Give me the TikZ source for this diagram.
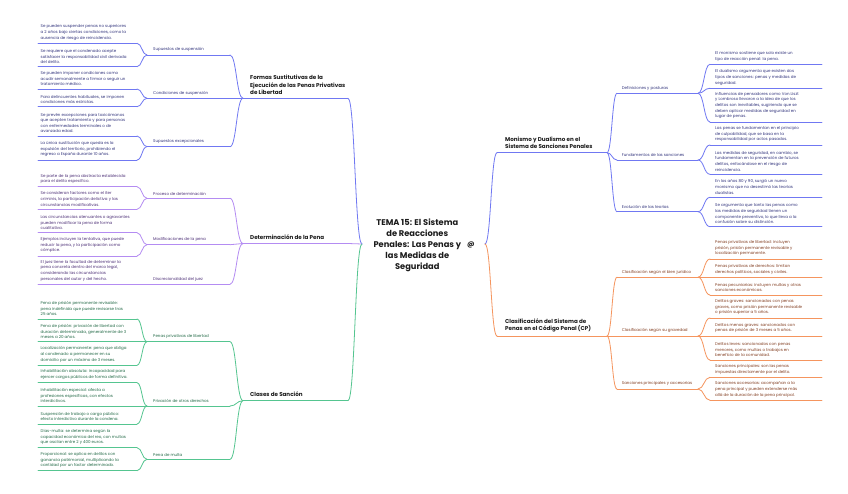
\documentclass[tikz,border=0pt]{standalone}
\usepackage{fontspec}
\setmainfont{Poppins}
\usetikzlibrary{calc}
\definecolor{bl}{HTML}{7078F2}
\definecolor{bt}{HTML}{34367E}
\definecolor{pl}{HTML}{B48CF2}
\definecolor{pt}{HTML}{4E3178}
\definecolor{gl}{HTML}{55C590}
\definecolor{gt}{HTML}{246B48}
\definecolor{ol}{HTML}{F5955E}
\definecolor{ot}{HTML}{833F22}
\definecolor{mt}{HTML}{1C1C1C}
\tikzset{
  ln/.style={line width=0.8pt, line cap=round},
  leaf/.style={anchor=south west, inner sep=0pt, align=left, font=\fontsize{4.0}{5.65}\selectfont},
  mainlbl/.style={anchor=south west, inner sep=0pt, align=left, font=\bfseries\fontsize{5.6}{7.4}\selectfont, text=mt},
  titlelbl/.style={inner sep=0pt, align=center, font=\bfseries\fontsize{8.3}{11}\selectfont, text=mt}
}
% left side
\newcommand\LeafL[4]{%
  \node[leaf,text=#3t] (#1) at (40.5,{#2-2.8}) {#4};
  \coordinate (#1a) at (38,#2);
  \coordinate (#1b) at (137,#2);
  \draw[ln,draw=#3l] (#1a) -- (#1b);}
\newcommand\SubL[4]{%
  \node[leaf,text=#3t] (#1) at (153,{#2-2.8}) {#4};
  \coordinate (#1j) at (147,#2);
  \coordinate (#1e) at (230,#2);
  \draw[ln,draw=#3l] (#1j) -- (#1e);}
\newcommand\MainL[4]{%
  \node[mainlbl] (#1) at (250,{#2-3.6}) {#4};
  \coordinate (#1j) at (243,#2);
  \coordinate (#1e) at (348,#2);
  \draw[ln,draw=#3l] (#1j) -- (#1e);}
% right side
\newcommand\LeafR[4]{%
  \node[leaf,text=#3t] (#1) at (715,{#2-2.8}) {#4};
  \coordinate (#1a) at (710,#2);
  \coordinate (#1b) at (822,#2);
  \draw[ln,draw=#3l] (#1a) -- (#1b);}
\newcommand\SubR[4]{%
  \node[leaf,text=#3t] (#1) at (621.7,{#2-2.8}) {#4};
  \coordinate (#1a) at (617,#2);
  \coordinate (#1j) at (698,#2);
  \draw[ln,draw=#3l] (#1a) -- (#1j);}
\newcommand\MainR[4]{%
  \node[mainlbl] (#1) at (505,{#2-3.6}) {#4};
  \coordinate (#1a) at (497,#2);
  \coordinate (#1j) at (607,#2);
  \draw[ln,draw=#3l] (#1a) -- (#1j);}
\newcommand\Link[4]{\draw[ln,draw=#1l] (#2) .. controls ($(#2)+(#4,0)$) and ($(#3)-(#4,0)$) .. (#3);}
\begin{document}
\begin{tikzpicture}[x=1pt,y=-1pt]
\useasboundingbox[fill=white] (0,0) rectangle (848,494);
% ---------- centre
\node[titlelbl] (T) at (417.3,245) {TEMA 15: El Sistema\\de Reacciones\\Penales: Las Penas y\\las Medidas de\\Seguridad};
\node[inner sep=0pt, font=\bfseries\fontsize{7}{7}\selectfont, text=mt] (icon) at (471,245) {@};
\coordinate (cL) at (362,244);
\coordinate (cR) at (485,244);
% ---------- Formas sustitutivas (blue)
\MainL{M1}{98.3}{b}{Formas Sustitutivas de la\\Ejecución de las Penas Privativas\\de Libertad}
\SubL{S1}{55}{b}{Supuestos de suspensión}
\LeafL{L1}{43.3}{b}{Se pueden suspender penas no superiores\\a 2 años bajo ciertas condiciones, como la\\ausencia de riesgo de reincidencia.}
\LeafL{L2}{66.7}{b}{Se requiere que el condenado acepte\\satisfacer la responsabilidad civil derivada\\del delito.}
\SubL{S2}{98.3}{b}{Condiciones de suspensión}
\LeafL{L3}{89}{b}{Se pueden imponer condiciones como\\acudir semanalmente a firmar o seguir un\\tratamiento médico.}
\LeafL{L4}{106.7}{b}{Para delincuentes habituales, se imponen\\condiciones más estrictas.}
\SubL{S3}{146.7}{b}{Supuestos excepcionales}
\LeafL{L5}{136}{b}{Se prevén excepciones para toxicómanos\\que acepten tratamiento y para personas\\con enfermedades terminales o de\\avanzada edad.}
\LeafL{L6}{160}{b}{La única sustitución que queda es la\\expulsión del territorio, prohibiendo el\\regreso a España durante 10 años.}
\Link{b}{L1b}{S1j}{5}\Link{b}{L2b}{S1j}{5}
\Link{b}{L3b}{S2j}{5}\Link{b}{L4b}{S2j}{5}
\Link{b}{L5b}{S3j}{5}\Link{b}{L6b}{S3j}{5}
\Link{b}{S1e}{M1j}{6.5}\Link{b}{S2e}{M1j}{6.5}\Link{b}{S3e}{M1j}{6.5}
\Link{b}{cL}{M1e}{-7}
% ---------- Determinación (purple)
\MainL{M2}{243.5}{p}{Determinación de la Pena}
\SubL{P1}{198.3}{p}{Proceso de determinación}
\LeafL{L7}{186.7}{p}{Se parte de la pena abstracta establecida\\para el delito específico.}
\LeafL{L8}{209.3}{p}{Se consideran factores como el iter\\criminis, la participación delictiva y las\\circunstancias modificativas.}
\SubL{P2}{244.7}{p}{Modificaciones de la pena}
\LeafL{L9}{232.7}{p}{Las circunstancias atenuantes o agravantes\\pueden modificar la pena de forma\\cualitativa.}
\LeafL{L10}{256}{p}{Ejemplos incluyen la tentativa, que puede\\reducir la pena, y la participación como\\cómplice.}
\SubL{P3}{284.3}{p}{Discrecionalidad del juez}
\LeafL{L11}{284.3}{p}{El juez tiene la facultad de determinar la\\pena concreta dentro del marco legal,\\considerando las circunstancias\\personales del autor y del hecho.}
\Link{p}{L7b}{P1j}{5}\Link{p}{L8b}{P1j}{5}
\Link{p}{L9b}{P2j}{5}\Link{p}{L10b}{P2j}{5}
\Link{p}{L11b}{P3j}{5}
\Link{p}{P1e}{M2j}{6.5}\Link{p}{P2e}{M2j}{6.5}\Link{p}{P3e}{M2j}{6.5}
\Link{p}{cL}{M2e}{-7}
% ---------- Clases de sanción (green)
\MainL{M3}{400.7}{g}{Clases de Sanción}
\SubL{G1}{341.7}{g}{Penas privativas de libertad}
\LeafL{L12}{319}{g}{Pena de prisión permanente revisable:\\pena indefinida que puede revisarse tras\\25 años.}
\LeafL{L13}{341.7}{g}{Pena de prisión: privación de libertad con\\duración determinada, generalmente de 3\\meses a 20 años.}
\LeafL{L14}{365.3}{g}{Localización permanente: pena que obliga\\al condenado a permanecer en su\\domicilio por un máximo de 3 meses.}
\SubL{G2}{406}{g}{Privación de otros derechos}
\LeafL{L15}{382.7}{g}{Inhabilitación absoluta: incapacidad para\\ejercer cargos públicos de forma definitiva.}
\LeafL{L16}{406}{g}{Inhabilitación especial: afecta a\\profesiones específicas, con efectos\\interdictivos.}
\LeafL{L17}{424}{g}{Suspensión de trabajo o cargo público:\\efecto interdictivo durante la condena.}
\SubL{G3}{459.3}{g}{Pena de multa}
\LeafL{L18}{447.7}{g}{Días-multa: se determina según la\\capacidad económica del reo, con multas\\que oscilan entre 2 y 400 euros.}
\LeafL{L19}{470.7}{g}{Proporcional: se aplica en delitos con\\ganancia patrimonial, multiplicando la\\cantidad por un factor determinado.}
\Link{g}{L12b}{G1j}{5}\Link{g}{L13b}{G1j}{5}\Link{g}{L14b}{G1j}{5}
\Link{g}{L15b}{G2j}{5}\Link{g}{L16b}{G2j}{5}\Link{g}{L17b}{G2j}{5}
\Link{g}{L18b}{G3j}{5}\Link{g}{L19b}{G3j}{5}
\Link{g}{G1e}{M3j}{6.5}\Link{g}{G2e}{M3j}{6.5}\Link{g}{G3e}{M3j}{6.5}
\Link{g}{cL}{M3e}{-7}
% ---------- Monismo y dualismo (blue, right)
\MainR{M4}{152.7}{b}{Monismo y Dualismo en el\\Sistema de Sanciones Penales}
\SubR{R1}{93.3}{b}{Definiciones y posturas}
\LeafR{L20}{64.3}{b}{El monismo sostiene que solo existe un\\tipo de reacción penal: la pena.}
\LeafR{L21}{88.3}{b}{El dualismo argumenta que existen dos\\tipos de sanciones: penas y medidas de\\seguridad.}
\LeafR{L22}{122}{b}{Influencias de pensadores como Von Liszt\\y Lombroso llevaron a la idea de que los\\delitos son inevitables, sugiriendo que se\\deben aplicar medidas de seguridad en\\lugar de penas.}
\SubR{R2}{160}{b}{Fundamentos de las sanciones}
\LeafR{L23}{145}{b}{Las penas se fundamentan en el principio\\de culpabilidad, que se basa en la\\responsabilidad por actos pasados.}
\LeafR{L24}{174.3}{b}{Las medidas de seguridad, en cambio, se\\fundamentan en la prevención de futuros\\delitos, enfocándose en el riesgo de\\reincidencia.}
\SubR{R3}{211.7}{b}{Evolución de las teorías}
\LeafR{L25}{197.3}{b}{En los años 80 y 90, surgió un nuevo\\monismo que no desestimó las teorías\\dualistas.}
\LeafR{L26}{226.7}{b}{Se argumenta que tanto las penas como\\las medidas de seguridad tienen un\\componente preventivo, lo que lleva a la\\confusión sobre su distinción.}
\Link{b}{R1j}{L20a}{6}\Link{b}{R1j}{L21a}{6}\Link{b}{R1j}{L22a}{6}
\Link{b}{R2j}{L23a}{6}\Link{b}{R2j}{L24a}{6}
\Link{b}{R3j}{L25a}{6}\Link{b}{R3j}{L26a}{6}
\Link{b}{M4j}{R1a}{5}\Link{b}{M4j}{R2a}{5}\Link{b}{M4j}{R3a}{5}
\Link{b}{cR}{M4a}{6}
% ---------- Clasificación (orange)
\MainR{M5}{336}{o}{Clasificación del Sistema de\\Penas en el Código Penal (CP)}
\SubR{O1}{277.2}{o}{Clasificación según el bien jurídico}
\LeafR{L27}{259}{o}{Penas privativas de libertad: incluyen\\prisión, prisión permanente revisable y\\localización permanente.}
\LeafR{L28}{277.2}{o}{Penas privativas de derechos: limitan\\derechos políticos, sociales y civiles.}
\LeafR{L29}{295}{o}{Penas pecuniarias: incluyen multas y otras\\sanciones económicas.}
\SubR{O2}{336}{o}{Clasificación según su gravedad}
\LeafR{L30}{318}{o}{Delitos graves: sancionados con penas\\graves, como prisión permanente revisable\\o prisión superior a 5 años.}
\LeafR{L31}{336}{o}{Delitos menos graves: sancionados con\\penas de prisión de 3 meses a 5 años.}
\LeafR{L32}{360}{o}{Delitos leves: sancionados con penas\\menores, como multas o trabajos en\\beneficio de la comunidad.}
\SubR{O3}{389}{o}{Sanciones principales y accesorias}
\LeafR{L33}{377.3}{o}{Sanciones principales: son las penas\\impuestas directamente por el delito.}
\LeafR{L34}{400.3}{o}{Sanciones accesorias: acompañan a la\\pena principal y pueden extenderse más\\allá de la duración de la pena principal.}
\Link{o}{O1j}{L27a}{6}\Link{o}{O1j}{L28a}{6}\Link{o}{O1j}{L29a}{6}
\Link{o}{O2j}{L30a}{6}\Link{o}{O2j}{L31a}{6}\Link{o}{O2j}{L32a}{6}
\Link{o}{O3j}{L33a}{6}\Link{o}{O3j}{L34a}{6}
\Link{o}{M5j}{O1a}{5}\Link{o}{M5j}{O2a}{5}\Link{o}{M5j}{O3a}{5}
\Link{o}{cR}{M5a}{6}
\end{tikzpicture}
\end{document}
